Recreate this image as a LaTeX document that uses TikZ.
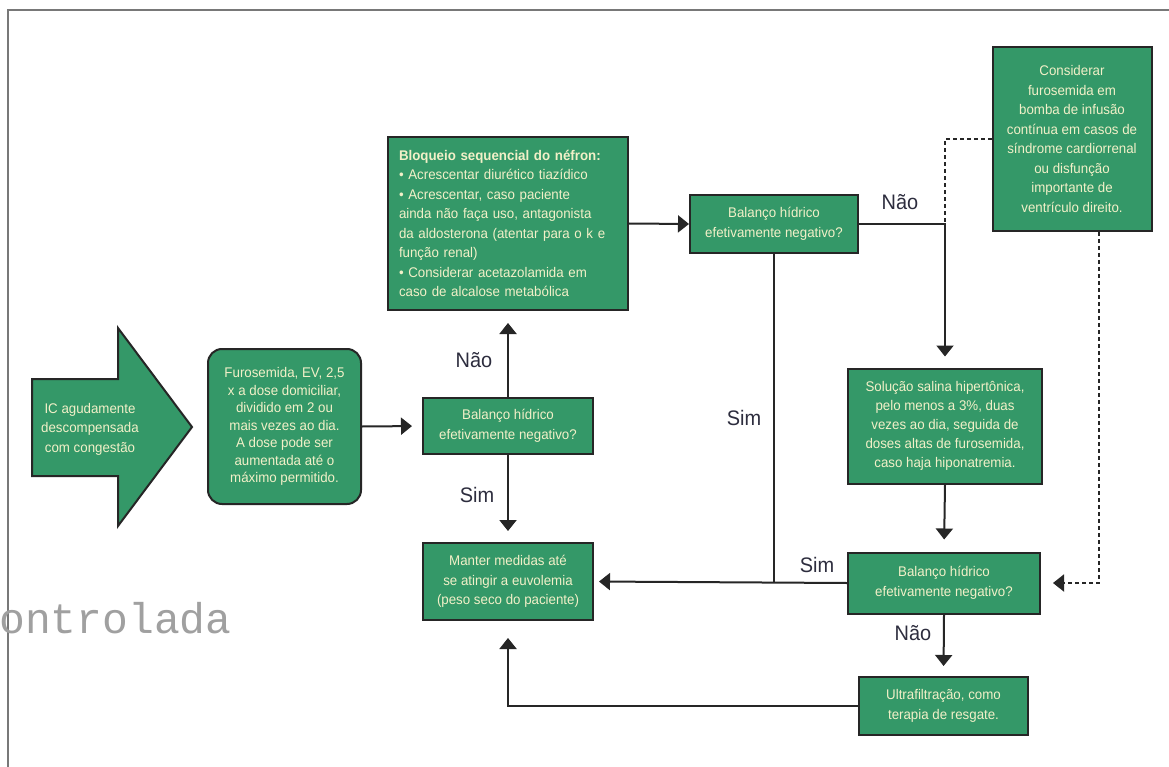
\documentclass[tikz,border=0pt]{standalone}
\usepackage{fontspec}
\setmainfont{Liberation Sans}[FakeStretch=0.95]
\newfontfamily\monof{Liberation Mono}
\usetikzlibrary{arrows.meta}
\definecolor{boxgreen}{RGB}{52,152,104}
\definecolor{boxtext}{RGB}{242,240,200}
\definecolor{edgec}{RGB}{38,38,38}
\definecolor{lblc}{RGB}{45,45,62}
\definecolor{framec}{RGB}{120,120,120}
\definecolor{wmark}{RGB}{160,160,160}
\begin{document}
\begin{tikzpicture}[x=1pt,y=-1pt,
  box/.style={draw=edgec, line width=2pt, fill=boxgreen, text=boxtext, inner sep=0pt, align=center, font=\fontsize{14}{19.5}\selectfont},
  conn/.style={draw=edgec, line width=2pt},
  arr/.style={conn, -{Triangle[width=17pt,length=11pt]}},
  dsh/.style={dash pattern=on 4pt off 3pt},
  lab/.style={text=lblc, font=\fontsize{21}{21}\selectfont, inner sep=0pt}
]
\useasboundingbox (0,0) rectangle (1169,767);
\fill[white] (0,0) rectangle (1169,767);

% frame
\draw[framec, line width=2pt] (1169,10) -- (8,10) -- (8,767);

% big entry arrow
\draw[draw=edgec, line width=2pt, fill=boxgreen, line join=miter]
  (32,379) -- (118,379) -- (118,328) -- (192,427) -- (118,526) -- (118,476) -- (32,476) -- cycle;
\node[box, draw=none, fill=none] (ic) at (90,429) {IC agudamente\\descompensada\\com congestão};

% nodes
\node[box, rounded corners=14pt, minimum width=153pt, minimum height=155pt,
      font=\fontsize{14}{17.5}\selectfont] (furo) at (284.5,426.5)
  {Furosemida, EV, 2,5\\x a dose domiciliar,\\dividido em 2 ou\\mais vezes ao dia.\\A dose pode ser\\aumentada até o\\máximo permitido.};

\node[box, minimum width=170pt, minimum height=56pt] (d1) at (508,426)
  {Balanço hídrico\\efetivamente negativo?};

\node[box, minimum width=240pt, minimum height=173pt, text width=218pt, align=left] (bloq) at (508,223.5)
  {\textbf{Bloqueio sequencial do néfron:}\\
   • Acrescentar diurético tiazídico\\
   • Acrescentar, caso paciente\\
   ainda não faça uso, antagonista\\
   da aldosterona (atentar para o k e\\
   função renal)\\
   • Considerar acetazolamida em\\
   caso de alcalose metabólica};

\node[box, minimum width=168pt, minimum height=58pt] (d2) at (774,224)
  {Balanço hídrico\\efetivamente negativo?};

\node[box, minimum width=159pt, minimum height=184pt] (cons) at (1072,139)
  {Considerar\\furosemida em\\bomba de infusão\\contínua em casos de\\síndrome cardiorrenal\\ou disfunção\\importante de\\ventrículo direito.};

\node[box, minimum width=194pt, minimum height=115pt, font=\fontsize{14}{19}\selectfont] (sal) at (945,426)
  {Solução salina hipertônica,\\pelo menos a 3\%, duas\\vezes ao dia, seguida de\\doses altas de furosemida,\\caso haja hiponatremia.};

\node[box, minimum width=192pt, minimum height=61pt] (d3) at (944,583)
  {Balanço hídrico\\efetivamente negativo?};

\node[box, minimum width=170pt, minimum height=77pt] (manter) at (508,581.5)
  {Manter medidas até\\se atingir a euvolemia\\(peso seco do paciente)};

\node[box, minimum width=169pt, minimum height=58pt] (ultra) at (943.5,706)
  {Ultrafiltração, como\\terapia de resgate.};

% junctions
\coordinate (j1) at (sal.north |- d2.east);
\coordinate (c1) at ([xshift=27pt]cons.south);

% connectors
\draw[arr, shorten >=10pt] (furo.east) -- (d1.west);
\draw[arr, shorten >=12pt] (d1.north) -- (bloq.south);
\draw[arr, shorten >=11pt] (d1.south) -- (manter.north);
\draw[arr] (bloq.east) -- (d2.west);
\draw[arr, shorten >=11pt] (d2.east) -- (j1) -- (sal.north);
\draw[conn] (d2.south) -- (d2.south |- d3.west);
\draw[arr, shorten >=12pt] (sal.south) -- (d3.north);
\draw[arr, shorten >=5pt] (d3.west) -- (manter.east);
\draw[arr, shorten >=10pt] (d3.south) -- (ultra.north);
\draw[arr, shorten >=17pt] (ultra.west) -- (manter.south |- ultra.west) -- (manter.south);
\draw[conn, dsh] (cons.west) -- (cons.west -| j1) -- (j1);
\draw[arr, dsh, shorten >=12pt] (c1) -- (c1 |- d3.east) -- (d3.east);

% labels
\node[lab] (l1) at (474,360) {Não};
\node[lab] (l2) at (477,495) {Sim};
\node[lab] (l3) at (900,202) {Não};
\node[lab] (l4) at (744,418) {Sim};
\node[lab] (l5) at (817,565) {Sim};
\node[lab] (l6) at (913,633) {Não};

% clipped watermark text
\node[anchor=base west, inner sep=0pt, text=wmark, font=\monof\fontsize{43}{43}\selectfont] (wm) at (-1,633) {ontrolada};
\end{tikzpicture}
\end{document}
